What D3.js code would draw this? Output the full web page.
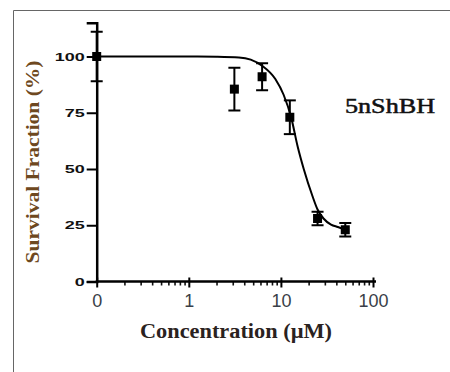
<!DOCTYPE html>
<html lang="en">
  <head>
    <meta charset="UTF-8" />
    <title>Survival Fraction</title>
    <style>
      body { margin: 0; background: #fff; }
    </style>
  </head>
  <body>
    <script src="https://d3js.org/d3.v7.min.js"></script>
    <script>
      // measured points (µM, % survival, SEM)
      const conc = [3.125, 6.25, 12.5, 25, 50]
      const survival = [85.5, 91, 73, 28, 23]
      const sem = [9.5, 6, 7.5, 3, 3]
      // untreated control, drawn at the "0" position of the log axis
      const controlConc = 0.1
      const controlSurvival = 100
      const controlSem = 11

      // fitted curve
      const curveConc = [0.1, 1, 2, 3.5, 4.7, 6.3, 8.7, 10.7, 13, 15.2, 17.7, 22, 25, 29, 35, 41.5, 50]
      const curveSurv = [100, 100, 99.9, 99.6, 98.6, 95.8, 90, 83, 72.5, 60, 50, 38, 32, 28, 25.3, 24.2, 23]

      const xTicks = [0.1, 1, 10, 100]
      const xTickLabels = ['0', '1', '10', '100']
      const yTicks = [0, 25, 50, 75, 100]

      const width = 450
      const height = 372

      const svg = d3.select('body').append('svg')
        .attr('width', width)
        .attr('height', height)

      // picture frame
      svg.append('path')
        .attr('d', 'M13.5,372V10.5H450')
        .attr('fill', 'none')
        .attr('stroke', '#666')
        .attr('stroke-width', 1)

      const x = d3.scaleLog().domain([0.1, 100]).range([96.7, 373])
      const y = d3.scaleLinear().domain([0, 115]).range([281.5, 22.75])

      // minor ticks on x
      const minor = []
      ;[0.1, 1, 10].forEach(d => { for (let k = 2; k <= 9; k++) minor.push(d * k) })

      svg.append('g')
        .attr('transform', `translate(0,${y(0)})`)
        .call(d3.axisBottom(x).tickValues(minor).tickSize(4).tickFormat(''))
        .call(g => g.select('.domain').remove())
        .call(g => g.selectAll('line').attr('stroke', '#111').attr('stroke-width', 1.6))

      const xAxis = g =>
        g.attr('transform', `translate(0,${y(0)})`)
          .call(d3.axisBottom(x).tickValues(xTicks).tickSizeOuter(0).tickSize(6).tickPadding(7)
            .tickFormat((d, i) => xTickLabels[i]))
          .call(g => g.select('.domain').attr('d', `M${x(0.1) - 1},0H${x(100) + 3}`)
            .attr('stroke', '#000').attr('stroke-width', 2.5))
          .call(g => g.selectAll('.tick line').attr('y1', -4).attr('stroke', '#000').attr('stroke-width', 2))
          .call(g => g.selectAll('.tick text')
            .attr('fill', '#3a3f48')
            .style('font-family', 'Liberation Sans, Arial, sans-serif')
            .style('font-size', '18px'))

      const yAxis = g =>
        g.attr('transform', `translate(${x(0.1)},0)`)
          .call(d3.axisLeft(y).tickValues(yTicks).tickSizeOuter(0).tickSize(10).tickPadding(2))
          .call(g => g.select('.domain').attr('stroke', '#000').attr('stroke-width', 2.5))
          .call(g => g.selectAll('.tick line').attr('stroke', '#000').attr('stroke-width', 2))
          .call(g => g.selectAll('.tick text')
            .attr('fill', '#111')
            .attr('textLength', d => String(d).length * 10)
            .attr('lengthAdjust', 'spacingAndGlyphs')
            .style('font-family', 'Liberation Sans, Arial, sans-serif')
            .style('font-weight', 'bold')
            .style('font-size', '11px'))

      svg.append('g').call(xAxis)
      svg.append('g').call(yAxis)

      // fitted curve
      const line = d3.line()
        .x((d, i) => x(curveConc[i]))
        .y(d => y(d))
        .curve(d3.curveMonotoneX)

      svg.append('path')
        .datum(curveSurv)
        .attr('d', line)
        .attr('fill', 'none')
        .attr('stroke', '#000')
        .attr('stroke-width', 2)

      // points with error bars
      const pts = conc.map((c, i) => ({ c, v: survival[i], e: sem[i] }))
      pts.unshift({ c: controlConc, v: controlSurvival, e: controlSem })

      const capW = 12
      const sq = 9
      const pg = svg.append('g').selectAll('g').data(pts).join('g')

      pg.append('line')
        .attr('x1', d => x(d.c)).attr('x2', d => x(d.c))
        .attr('y1', d => y(d.v + d.e)).attr('y2', d => y(d.v - d.e))
        .attr('stroke', '#000').attr('stroke-width', 2)
      pg.append('line')
        .attr('x1', d => x(d.c) - capW / 2).attr('x2', d => x(d.c) + capW / 2)
        .attr('y1', d => y(d.v + d.e)).attr('y2', d => y(d.v + d.e))
        .attr('stroke', '#000').attr('stroke-width', 2)
      pg.append('line')
        .attr('x1', d => x(d.c) - capW / 2).attr('x2', d => x(d.c) + capW / 2)
        .attr('y1', d => y(d.v - d.e)).attr('y2', d => y(d.v - d.e))
        .attr('stroke', '#000').attr('stroke-width', 2)
      pg.append('rect')
        .attr('x', d => x(d.c) - sq / 2)
        .attr('y', d => y(d.v) - sq / 2)
        .attr('width', sq).attr('height', sq)
        .attr('fill', '#000')

      // compound label
      svg.append('text')
        .attr('x', 345).attr('y', 113)
        .attr('textLength', 90)
        .attr('lengthAdjust', 'spacingAndGlyphs')
        .style('font-family', 'Liberation Serif, Times New Roman, serif')
        .style('font-size', '20px')
        .attr('fill', '#111')
        .attr('stroke', '#111')
        .attr('stroke-width', 0.5)
        .text('5nShBH')

      // axis titles
      svg.append('text')
        .attr('x', 236).attr('y', 338)
        .attr('text-anchor', 'middle')
        .attr('textLength', 192)
        .attr('lengthAdjust', 'spacingAndGlyphs')
        .style('font-family', 'Liberation Serif, Times New Roman, serif')
        .style('font-weight', 'bold')
        .style('font-size', '20px')
        .attr('fill', '#2a2220')
        .text('Concentration (\u00b5M)')

      svg.append('text')
        .attr('transform', 'translate(39,162) rotate(-90)')
        .attr('text-anchor', 'middle')
        .attr('textLength', 203)
        .attr('lengthAdjust', 'spacingAndGlyphs')
        .style('font-family', 'Liberation Serif, Times New Roman, serif')
        .style('font-weight', 'bold')
        .style('font-size', '19px')
        .attr('fill', '#6e4820')
        .text('Survival Fraction (%)')
    </script>
  </body>
</html>
